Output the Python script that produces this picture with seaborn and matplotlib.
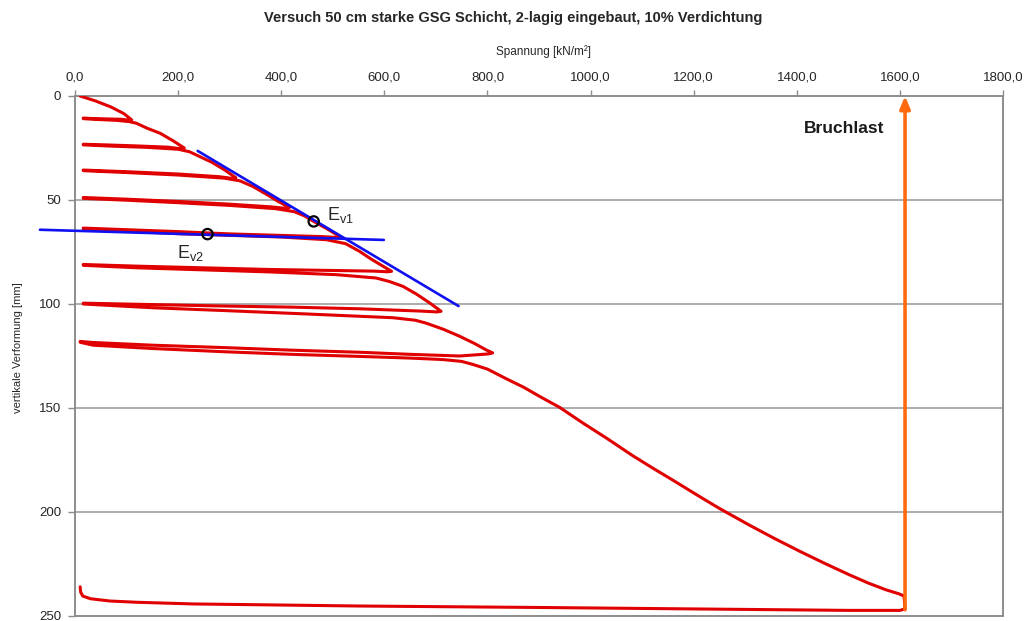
import matplotlib
matplotlib.use("Agg")
import matplotlib.pyplot as plt
import seaborn as sns
import pandas as pd

# Load path of the plate load test: stress [kN/m²] and vertical settlement [mm]
spannung = [
    10, 40, 70, 95, 110,
    104, 90, 60, 30, 16,
    16, 45, 80, 105, 119,
    140, 165, 190, 212,
    204, 180, 120, 60, 16,
    16, 70, 140, 200, 222,
    245, 265, 290, 312,
    304, 280, 200, 100, 16,
    16, 100, 200, 290, 320,
    345, 371, 395, 416,
    408, 380, 300, 200, 100, 16,
    16, 100, 200, 300, 390, 425,
    445, 463, 490, 515,
    507, 480, 400, 300, 200, 100, 16,
    16, 100, 200, 300, 400, 488, 525,
    552, 575, 595, 614,
    606, 580, 480, 378, 250, 120, 16,
    16, 120, 250, 380, 507, 584,
    610, 636, 662, 688, 710,
    702, 670, 552, 420, 294, 150, 16,
    16, 150, 294, 450, 617, 660,
    681, 715, 746, 775, 797, 810,
    802, 770, 746, 650, 552, 420, 294, 150, 35, 10,
    10, 35, 150, 294, 420, 552, 650, 713, 750, 771,
    800, 837, 870, 901, 940, 985, 1031, 1081, 1120, 1159, 1211, 1250,
    1308, 1355, 1405, 1455, 1502, 1540, 1573, 1599, 1608,
    1610,
    1600, 1500, 1200, 900, 552, 229, 120, 68, 30, 15, 11, 10,
]
verformung = [
    0.0, 2.4, 5.3, 8.5, 11.5,
    11.6, 11.2, 11.0, 10.8, 10.6,
    10.9, 11.3, 11.7, 12.3, 13.1,
    15.5, 17.9, 21.5, 25.0,
    25.3, 24.6, 24.0, 23.5, 23.2,
    23.5, 24.1, 24.7, 25.6, 26.8,
    29.5, 31.8, 35.5, 39.3,
    39.6, 38.8, 37.5, 36.4, 35.6,
    35.9, 36.8, 38.0, 39.5, 40.8,
    43.5, 47.2, 50.8, 53.6,
    54.0, 53.3, 52.0, 50.7, 49.6, 48.8,
    49.2, 50.1, 51.3, 52.6, 54.2, 55.6,
    57.6, 60.3, 64.0, 67.8,
    68.0, 67.6, 67.0, 66.3, 65.2, 64.3, 63.5,
    63.9, 65.0, 66.2, 67.0, 67.8, 69.1, 71.0,
    74.7, 78.5, 81.5, 84.3,
    84.5, 84.2, 83.8, 83.4, 82.6, 81.8, 81.0,
    81.4, 82.6, 83.6, 84.6, 85.9, 87.5,
    89.2, 91.5, 95.2, 99.5, 103.5,
    103.8, 103.4, 102.3, 101.5, 101.0, 100.3, 99.6,
    100.0, 101.8, 103.2, 104.8, 106.6, 107.8,
    109.2, 112.2, 115.5, 119.0, 122.0, 123.5,
    124.0, 124.6, 125.0, 124.2, 123.2, 122.2, 121.0, 119.8, 118.5, 118.0,
    118.4, 119.8, 121.4, 123.0, 124.2, 125.2, 126.0, 126.7, 127.6, 129.0,
    131.3, 136.0, 140.0, 144.4, 149.7, 157.2, 164.5, 172.8, 178.8, 184.6, 192.5, 198.3,
    206.3, 212.5, 218.8, 224.8, 230.2, 234.3, 237.4, 239.4, 240.4,
    246.6,
    247.3, 247.3, 246.6, 245.9, 245.2, 244.2, 243.4, 242.8, 241.7, 240.4, 238.5, 236.0,
]

# Tangent lines for the first and second loading modulus
tangente_ev1_x = [238, 744]
tangente_ev1_y = [26.4, 101.0]
tangente_ev2_x = [-68, 599]
tangente_ev2_y = [64.3, 69.2]

# Evaluation points
punkte_x = [463, 257]
punkte_y = [60.3, 66.4]
punkte_name = ["Ev1", "Ev2"]

# Failure load
bruchlast_spannung = 1610
bruchlast_start = 247.0

x_ticks = [0, 200, 400, 600, 800, 1000, 1200, 1400, 1600, 1800]
x_tick_labels = ["0,0", "200,0", "400,0", "600,0", "800,0", "1000,0",
                 "1200,0", "1400,0", "1600,0", "1800,0"]
y_ticks = [0, 50, 100, 150, 200, 250]

sns.set_theme(style="white")
plt.rcParams["font.family"] = ["Liberation Sans", "DejaVu Sans"]
plt.rcParams["mathtext.fontset"] = "custom"
plt.rcParams["mathtext.rm"] = "Liberation Sans"
plt.rcParams["mathtext.it"] = "Liberation Sans"

fig = plt.figure(figsize=(10.27, 6.21), dpi=100)
ax = fig.add_axes([75 / 1027, 5 / 621, 928 / 1027, 520 / 621])

GRAU = "#8c8c8c"

for yv in y_ticks[1:-1]:
    ax.axhline(yv, color="#a6a6a6", lw=1.3, zorder=0)

kurve = pd.DataFrame({"Spannung": spannung, "Verformung": verformung})
sns.lineplot(data=kurve, x="Spannung", y="Verformung", sort=False, estimator=None,
             color="#e00000", lw=2.2, ax=ax, zorder=3,
             solid_joinstyle="round", solid_capstyle="round")

ev1 = pd.DataFrame({"x": tangente_ev1_x, "y": tangente_ev1_y})
ev2 = pd.DataFrame({"x": tangente_ev2_x, "y": tangente_ev2_y})
sns.lineplot(data=ev1, x="x", y="y", color="#1010f0", lw=1.9, ax=ax, zorder=4,
             estimator=None, sort=False)
sns.lineplot(data=ev2, x="x", y="y", color="#1010f0", lw=1.9, ax=ax, zorder=4,
             estimator=None, sort=False)
ax.lines[-1].set_clip_on(False)

pts = pd.DataFrame({"x": punkte_x, "y": punkte_y, "name": punkte_name})
sns.scatterplot(data=pts, x="x", y="y", ax=ax, s=55, facecolors="none",
                edgecolors="black", linewidths=1.6, zorder=5, legend=False)

ax.text(488, 59.8, r"$\mathregular{E_{v1}}$", fontsize=13, ha="left", va="baseline", zorder=6)
ax.text(198, 78.0, r"$\mathregular{E_{v2}}$", fontsize=13, ha="left", va="baseline", zorder=6)

ax.annotate("", xy=(bruchlast_spannung, 0.0), xytext=(bruchlast_spannung, bruchlast_start),
            arrowprops=dict(arrowstyle="-|>,head_length=0.6,head_width=0.25",
                            color="#ff6a10", lw=2.6, shrinkA=0, shrinkB=0),
            annotation_clip=False, zorder=6)
ax.text(1492, 15.4, "Bruchlast", fontsize=12.5, fontweight="bold", ha="center",
        va="center", color="#1a1a1a")

ax.set_xlim(0, 1800)
ax.set_ylim(250, 0)
ax.xaxis.tick_top()
ax.set_xticks(x_ticks)
ax.set_xticklabels(x_tick_labels)
ax.set_yticks(y_ticks)
ax.set_yticklabels([str(v) for v in y_ticks])
ax.tick_params(axis="x", top=True, bottom=False, length=4, width=1, color=GRAU,
               labelsize=9.5, pad=5, direction="out")
ax.tick_params(axis="y", left=True, length=5, width=1, color=GRAU,
               labelsize=9.5, pad=5, direction="out")
ax.set_xlabel("")
ax.set_ylabel("")
for sp in ax.spines.values():
    sp.set_color(GRAU)
    sp.set_linewidth(1.4)

ax.text(0.505, 1.0846, "Spannung [kN/m²]", transform=ax.transAxes, fontsize=8.5,
        ha="center", va="center")
ax.text(-0.0614, 0.517, "vertikale Verformung [mm]", transform=ax.transAxes,
        fontsize=8, rotation=90, ha="center", va="center")
fig.text(0.4995, 0.971, "Versuch 50 cm starke GSG Schicht, 2-lagig eingebaut, 10% Verdichtung",
         fontsize=10.5, fontweight="bold", ha="center", va="center")

fig.savefig("out.png", dpi=100)
